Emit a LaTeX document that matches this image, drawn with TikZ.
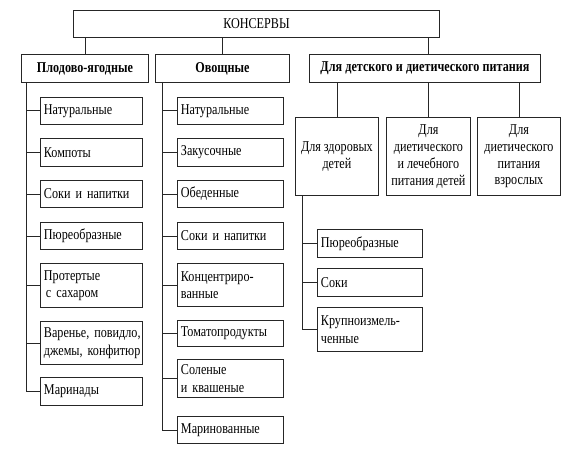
\documentclass[tikz,border=0pt]{standalone}
\usepackage{fontspec}
\setmainfont[FakeStretch=0.81]{Liberation Serif}
\newcommand\mytightsp{\spaceskip=2.8pt\relax}
\newcommand\myboldsp{\spaceskip=3.2pt\relax}
\begin{document}
\begin{tikzpicture}[x=1pt,y=-1pt,
  line width=0.9pt,
  box/.style={draw=black!85, inner sep=0pt, anchor=north west, font=\fontsize{15}{17.5}\selectfont\mytightsp},
  lbox/.style={box, align=left, inner xsep=3.5pt},
  cbox/.style={box, align=center, font=\fontsize{15}{16.8}\selectfont\mytightsp},
  hbox/.style={box, align=center, font=\fontsize{15}{17}\selectfont\bfseries\myboldsp},
  link/.style={draw=black!85, line width=0.9pt}]
\useasboundingbox (0,0) rectangle (575,457);
% top
\node[cbox, minimum width=366pt, minimum height=27pt] (top) at (73,10) {КОНСЕРВЫ};
% level 2
\node[hbox, minimum width=127pt, minimum height=28pt] (p) at (21,54) {Плодово-ягодные};
\node[hbox, minimum width=134pt, minimum height=28pt] (o) at (155,54) {Овощные};
\node[hbox, minimum width=231pt, minimum height=28pt] (d) at (309,54) {Для детского и диетического питания};
% left column
\node[lbox, text width=95pt, minimum height=27pt] (p1) at (40,97) {Натуральные};
\node[lbox, text width=95pt, minimum height=28pt] (p2) at (40,138) {Компоты};
\node[lbox, text width=95pt, minimum height=27pt] (p3) at (40,180) {Соки и напитки};
\node[lbox, text width=95pt, minimum height=27pt] (p4) at (40,222) {Пюреобразные};
\node[lbox, text width=95pt, minimum height=44pt] (p5) at (40,263) {Протертые\\\hspace*{2pt}с сахаром};
\node[lbox, text width=95pt, minimum height=43pt] (p6) at (40,321) {\mbox{Варенье, повидло,}\\\mbox{джемы, конфитюр}};
\node[lbox, text width=95pt, minimum height=28pt] (p7) at (40,377) {Маринады};
% middle column
\node[lbox, text width=99pt, minimum height=27pt] (o1) at (177,97) {Натуральные};
\node[lbox, text width=99pt, minimum height=28pt] (o2) at (177,138) {Закусочные};
\node[lbox, text width=99pt, minimum height=27pt] (o3) at (177,180) {Обеденные};
\node[lbox, text width=99pt, minimum height=27pt] (o4) at (177,222) {Соки и напитки};
\node[lbox, text width=99pt, minimum height=43pt] (o5) at (177,263) {Концентриро-\\ванные};
\node[lbox, text width=99pt, minimum height=26pt] (o6) at (177,320) {Томатопродукты};
\node[lbox, text width=99pt, minimum height=38pt] (o7) at (177,359) {Соленые\\и квашеные};
\node[lbox, text width=99pt, minimum height=27pt] (o8) at (177,416) {Маринованные};
% right column
\node[cbox, minimum width=83pt, minimum height=78pt] (d1) at (295,117) {Для здоровых\\детей};
\node[cbox, minimum width=84pt, minimum height=78pt] (d2) at (386,117) {Для\\диетического\\и лечебного\\питания детей};
\node[cbox, minimum width=83pt, minimum height=78pt] (d3) at (477,117) {Для\\диетического\\питания\\взрослых};
\node[lbox, text width=98pt, minimum height=28pt] (r1) at (317,229) {Пюреобразные};
\node[lbox, text width=98pt, minimum height=28pt] (r2) at (317,268) {Соки};
\node[lbox, text width=98pt, minimum height=44pt] (r3) at (317,307) {Крупноизмель-\\ченные};
% connectors from top
\draw[link] (top.south -| p.north) -- (p.north);
\draw[link] (top.south -| o.north) -- (o.north);
\coordinate (dtop) at ([xshift=3.5pt]d.north);
\draw[link] (top.south -| dtop) -- (dtop);
% left spine
\coordinate (pv) at (26,82);
\draw[link] (pv) |- (p7.west);
\foreach \n in {p1,p2,p3,p4,p5,p6} \draw[link] (pv |- \n.west) -- (\n.west);
% middle spine
\coordinate (ov) at (162,82);
\draw[link] (ov) |- (o8.west);
\foreach \n in {o1,o2,o3,o4,o5,o6,o7} \draw[link] (ov |- \n.west) -- (\n.west);
% right
\foreach \n in {d1,d2,d3} \draw[link] (\n.north |- d.south) -- (\n.north);
\coordinate (rv) at (302,195);
\draw[link] (rv) |- (r3.west);
\foreach \n in {r1,r2} \draw[link] (rv |- \n.west) -- (\n.west);
\end{tikzpicture}
\end{document}
